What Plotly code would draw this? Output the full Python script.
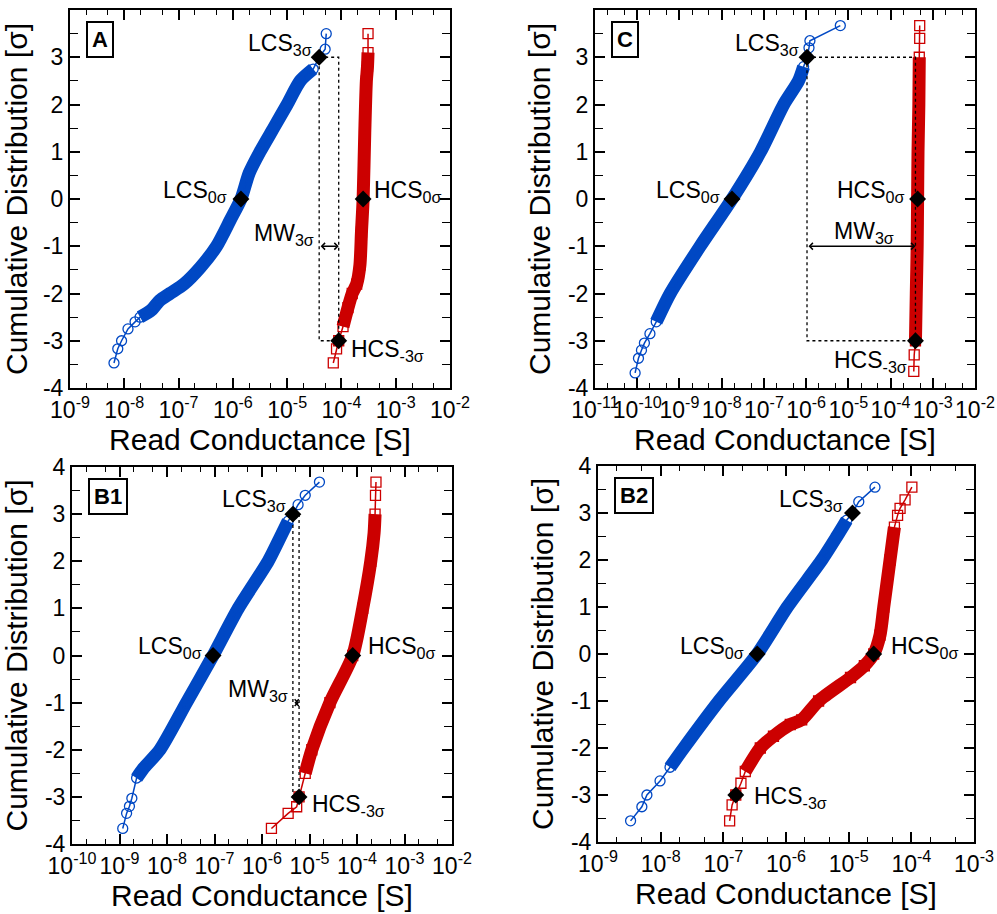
import numpy as np
import plotly.graph_objects as go

# ---------------- Panel A ----------------
a_lcs_g = [6.46e-9, 7.59e-9, 8.91e-9, 1.17e-8, 1.58e-8, 1.95e-8, 3.16e-8, 4.47e-8, 6.92e-8,
           1.26e-7, 2.51e-7, 5.01e-7, 8.91e-7, 1.41e-6, 2.0e-6, 3.16e-6, 5.62e-6, 1.0e-5,
           1.74e-5, 3.02e-5, 3.89e-5, 5.01e-5, 5.25e-5]
a_lcs_s = [-3.47, -3.17, -3.0, -2.75, -2.6, -2.5, -2.35, -2.15, -2.0,
           -1.8, -1.45, -1.0, -0.45, 0.0, 0.55, 1.0, 1.5, 2.0,
           2.5, 2.75, 3.0, 3.17, 3.5]
a_hcs_g = [7.08e-5, 8.13e-5, 8.91e-5, 1.07e-4, 1.32e-4, 1.58e-4, 1.91e-4, 2.19e-4,
           2.34e-4, 2.51e-4, 2.69e-4, 2.88e-4, 3.02e-4, 3.09e-4, 3.09e-4]
a_hcs_s = [-3.47, -3.17, -3.0, -2.7, -2.3, -2.0, -1.8, -1.4,
           -0.7, 0.0, 1.4, 2.5, 2.8, 3.1, 3.5]
a_keys = {"lcs0": 1.41e-6, "lcs3": 3.89e-5, "hcs0": 2.51e-4, "hcs_3": 8.91e-5}

# ---------------- Panel C ----------------
c_lcs_g = [8.91e-11, 1.07e-10, 1.26e-10, 1.48e-10, 2.0e-10, 2.82e-10, 6.03e-10, 3.09e-9,
           1.76e-8, 8.32e-8, 2.95e-7, 6.61e-7, 8.71e-7, 1.05e-6, 1.17e-6, 1.23e-6, 6.46e-6]
c_lcs_s = [-3.68, -3.37, -3.2, -3.05, -2.85, -2.6, -2.0, -1.0,
           0.0, 1.0, 2.0, 2.5, 2.8, 3.0, 3.2, 3.35, 3.67]
c_hcs_g = [3.55e-4, 3.63e-4, 3.89e-4, 4.07e-4, 4.27e-4, 4.37e-4, 4.47e-4, 4.68e-4,
           4.79e-4, 4.90e-4, 4.90e-4]
c_hcs_s = [-3.65, -3.3, -3.0, -2.0, -1.0, 0.0, 1.0, 2.0, 3.0, 3.4, 3.67]
c_keys = {"lcs0": 1.76e-8, "lcs3": 1.05e-6, "hcs0": 4.37e-4, "hcs_3": 3.89e-4}

# ---------------- Panel B1 ----------------
b1_lcs_g = [1.17e-9, 1.41e-9, 1.62e-9, 1.82e-9, 2.29e-9, 3.16e-9, 7.08e-9, 2.57e-8,
            9.33e-8, 3.16e-7, 1.35e-6, 2.40e-6, 3.55e-6, 4.47e-6, 5.75e-6, 8.13e-6, 1.62e-5]
b1_lcs_s = [-3.67, -3.35, -3.2, -3.03, -2.6, -2.4, -2.0, -1.0,
            0.0, 1.0, 2.0, 2.5, 2.85, 3.0, 3.2, 3.4, 3.68]
b1_hcs_g = [1.58e-6, 3.55e-6, 5.37e-6, 6.03e-6, 8.13e-6, 1.12e-5, 2.69e-5, 8.13e-5,
            1.32e-4, 1.95e-4, 2.29e-4, 2.40e-4, 2.45e-4, 2.51e-4]
b1_hcs_s = [-3.67, -3.35, -3.21, -3.0, -2.5, -2.0, -1.0, 0.0,
            1.0, 2.0, 2.6, 3.0, 3.4, 3.68]
b1_keys = {"lcs0": 9.33e-8, "lcs3": 4.47e-6, "hcs0": 8.13e-5, "hcs_3": 6.03e-6}

# ---------------- Panel B2 ----------------
b2_lcs_g = [3.31e-9, 5.01e-9, 6.03e-9, 9.77e-9, 1.41e-8, 2.34e-8, 8.51e-8, 3.47e-7,
            1.05e-6, 3.72e-6, 6.46e-6, 9.33e-6, 1.15e-5, 1.45e-5, 2.63e-5]
b2_lcs_s = [-3.55, -3.25, -3.0, -2.7, -2.41, -2.0, -1.0, 0.0,
            1.0, 2.0, 2.5, 2.85, 3.0, 3.24, 3.55]
b2_hcs_g = [1.26e-7, 1.38e-7, 1.58e-7, 1.91e-7, 2.24e-7, 3.89e-7, 6.31e-7, 1.17e-6,
            1.78e-6, 3.31e-6, 1.07e-5, 1.78e-5, 2.51e-5, 3.16e-5, 3.63e-5, 4.57e-5,
            5.37e-5, 6.03e-5, 6.61e-5, 7.94e-5, 1.02e-4]
b2_hcs_s = [-3.55, -3.21, -3.0, -2.75, -2.5, -2.0, -1.75, -1.5,
            -1.4, -1.0, -0.5, -0.25, 0.0, 0.4, 1.0, 2.0,
            2.7, 2.95, 3.1, 3.28, 3.55]
b2_keys = {"lcs0": 3.47e-7, "lcs3": 1.15e-5, "hcs0": 2.51e-5, "hcs_3": 1.58e-7}

# decade exponents shown on each x axis
a_decades = list(range(-9, -1))
c_decades = list(range(-11, -1))
b1_decades = list(range(-10, -1))
b2_decades = list(range(-9, -2))
sigma_ticks = [-4, -3, -2, -1, 0, 1, 2, 3, 4]

BLUE = "rgb(0,72,196)"
RED = "rgb(204,0,0)"
FONT = "Liberation Sans, Arial, sans-serif"
TICK_SIZE = 23
LABEL_SIZE = 23
TITLE_SIZE = 30

panels = [
    dict(name="A", ax="", lcs=(a_lcs_g, a_lcs_s), hcs=(a_hcs_g, a_hcs_s), keys=a_keys,
         dec=a_decades, dom_x=(70, 450), dom_y=(10, 388), mw=True,
         lcs_band=(-2.55, 2.8), hcs_band=(-2.9, 3.1)),
    dict(name="C", ax="2", lcs=(c_lcs_g, c_lcs_s), hcs=(c_hcs_g, c_hcs_s), keys=c_keys,
         dec=c_decades, dom_x=(595, 975), dom_y=(10, 388), mw=True,
         lcs_band=(-2.7, 2.85), hcs_band=(-3.0, 3.0)),
    dict(name="B1", ax="3", lcs=(b1_lcs_g, b1_lcs_s), hcs=(b1_hcs_g, b1_hcs_s), keys=b1_keys,
         dec=b1_decades, dom_x=(72, 452), dom_y=(467, 844), mw=True,
         lcs_band=(-2.7, 2.9), hcs_band=(-2.95, 3.0)),
    dict(name="B2", ax="4", lcs=(b2_lcs_g, b2_lcs_s), hcs=(b2_hcs_g, b2_hcs_s), keys=b2_keys,
         dec=b2_decades, dom_x=(598, 974), dom_y=(466, 842), mw=False,
         lcs_band=(-2.45, 2.9), hcs_band=(-2.7, 2.9)),
]

# label placement: (key, text, y, xanchor, xshift, yshift) per panel
label_specs = {
    "A": [("lcs3", "LCS<sub>3σ</sub>", 3, "right", -5, 13),
          ("lcs0", "LCS<sub>0σ</sub>", 0, "right", -12, 7),
          ("hcs0", "HCS<sub>0σ</sub>", 0, "left", 9, 7),
          ("hcs_3", "HCS<sub>-3σ</sub>", -3, "left", 10, -10)],
    "C": [("lcs3", "LCS<sub>3σ</sub>", 3, "right", -6, 13),
          ("lcs0", "LCS<sub>0σ</sub>", 0, "right", -10, 7),
          ("hcs0", "HCS<sub>0σ</sub>", 0, "right", -11, 7),
          ("hcs_3", "HCS<sub>-3σ</sub>", -3, "right", -6, -21)],
    "B1": [("lcs3", "LCS<sub>3σ</sub>", 3, "right", -5, 14),
           ("lcs0", "LCS<sub>0σ</sub>", 0, "right", -9, 8),
           ("hcs0", "HCS<sub>0σ</sub>", 0, "left", 13, 8),
           ("hcs_3", "HCS<sub>-3σ</sub>", -3, "left", 11, -9)],
    "B2": [("lcs3", "LCS<sub>3σ</sub>", 3, "right", -7, 13),
           ("lcs0", "LCS<sub>0σ</sub>", 0, "right", -11, 7),
           ("hcs0", "HCS<sub>0σ</sub>", 0, "left", 15, 7),
           ("hcs_3", "HCS<sub>-3σ</sub>", -3, "left", 16, -2)],
}

W, H = 997, 914
fig = go.Figure()
annotations = []
layout_axes = {}


def band_slice(g, s, lim):
    g = np.asarray(g)
    s = np.asarray(s)
    m = (s >= lim[0]) & (s <= lim[1])
    return g[m], s[m]


for p in panels:
    xa, ya = "x" + p["ax"], "y" + p["ax"]
    k = p["keys"]
    for (g, s), color, sym, lim in [(p["lcs"], BLUE, "circle-open", p["lcs_band"]),
                                    (p["hcs"], RED, "square-open", p["hcs_band"])]:
        bg, bs = band_slice(g, s, lim)
        fig.add_trace(go.Scatter(x=bg, y=bs, mode="lines", xaxis=xa, yaxis=ya,
                                 line=dict(color=color, width=13, shape="spline",
                                           smoothing=0.7),
                                 showlegend=False, hoverinfo="skip"))
        fig.add_trace(go.Scatter(x=g, y=s, mode="lines+markers", xaxis=xa, yaxis=ya,
                                 line=dict(color=color, width=1.5),
                                 marker=dict(symbol=sym, size=10, color=color,
                                             line=dict(width=1.3, color=color)),
                                 showlegend=False))
    if p["mw"]:
        fig.add_trace(go.Scatter(
            x=[k["lcs3"], k["hcs_3"], k["hcs_3"], k["lcs3"], k["lcs3"]],
            y=[3, 3, -3, -3, 3], mode="lines", xaxis=xa, yaxis=ya,
            line=dict(color="black", width=1.3, dash="dot"), showlegend=False))
        annotations.append(dict(
            x=np.log10(k["hcs_3"]), y=-1, ax=np.log10(k["lcs3"]), ay=-1,
            xref=xa, yref=ya, axref=xa, ayref=ya, text="", showarrow=True,
            arrowhead=4, startarrowhead=4, arrowside="end+start", arrowsize=1,
            arrowwidth=1.3, arrowcolor="black", standoff=0, startstandoff=0))
        if p["name"] == "C":
            mx = 0.5 * (np.log10(k["lcs3"]) + np.log10(k["hcs_3"]))
            annotations.append(dict(x=mx, y=-1, xref=xa, yref=ya, text="MW<sub>3σ</sub>",
                                    showarrow=False, xanchor="center", yanchor="middle",
                                    xshift=3, yshift=14,
                                    font=dict(family=FONT, size=LABEL_SIZE, color="black")))
        else:
            annotations.append(dict(x=np.log10(k["lcs3"]), y=-1, xref=xa, yref=ya,
                                    text="MW<sub>3σ</sub>", showarrow=False,
                                    xanchor="right", yanchor="middle", xshift=-3,
                                    yshift=12,
                                    font=dict(family=FONT, size=LABEL_SIZE, color="black")))
    fig.add_trace(go.Scatter(
        x=[k["lcs0"], k["lcs3"], k["hcs0"], k["hcs_3"]], y=[0, 3, 0, -3],
        mode="markers", xaxis=xa, yaxis=ya,
        marker=dict(symbol="diamond", size=13, color="black", line=dict(width=0)),
        showlegend=False))

    for key, txt, yv, xanc, xs, ys in label_specs[p["name"]]:
        annotations.append(dict(x=np.log10(k[key]), y=yv, xref=xa, yref=ya, text=txt,
                                showarrow=False, xanchor=xanc, yanchor="middle",
                                xshift=xs, yshift=ys,
                                font=dict(family=FONT, size=LABEL_SIZE, color="black")))

    # panel tag in a framed box
    annotations.append(dict(x=0.042, y=0.97, xref=xa + " domain", yref=ya + " domain",
                            text="<b>%s</b>" % p["name"], showarrow=False,
                            xanchor="left", yanchor="top", bordercolor="black",
                            borderwidth=2, borderpad=4, bgcolor="white",
                            font=dict(family=FONT, size=22, color="black")))

    x0, x1 = p["dom_x"]
    y0, y1 = p["dom_y"]
    dec = p["dec"]
    axis_common = dict(showline=True, linewidth=2, linecolor="black", mirror="ticks",
                       ticks="inside", tickwidth=1.5, tickcolor="black",
                       showgrid=False, zeroline=False, automargin=False,
                       tickfont=dict(family=FONT, size=TICK_SIZE, color="black"))
    layout_axes["xaxis" + p["ax"]] = dict(
        type="log", range=[dec[0], dec[-1]], domain=[x0 / W, x1 / W],
        anchor=ya, tickvals=[10.0 ** d for d in dec], tickangle=0,
        ticktext=["10<sup>%d</sup>" % d for d in dec], ticklen=10,
        minor=dict(ticks="inside", ticklen=5, tickwidth=1.2, tickcolor="black",
                   showgrid=False),
        title=dict(text="Read Conductance [S]", standoff=4,
                   font=dict(family=FONT, size=TITLE_SIZE, color="black")),
        **axis_common)
    layout_axes["yaxis" + p["ax"]] = dict(
        range=[-4, 4], domain=[1 - y1 / H, 1 - y0 / H], anchor=xa,
        tickvals=sigma_ticks, ticktext=[str(v) for v in sigma_ticks], ticklen=10,
        minor=dict(ticks="inside", ticklen=8, tickwidth=1.2, tickcolor="black",
                   dtick=0.5, showgrid=False),
        title=dict(text="Cumulative Distribution [σ]", standoff=8,
                   font=dict(family=FONT, size=TITLE_SIZE, color="black")),
        **axis_common)

fig.update_layout(width=W, height=H, margin=dict(l=0, r=0, t=0, b=0),
                  paper_bgcolor="white", plot_bgcolor="white",
                  font=dict(family=FONT, color="black"),
                  annotations=annotations, **layout_axes)

fig.write_html("out.html")
